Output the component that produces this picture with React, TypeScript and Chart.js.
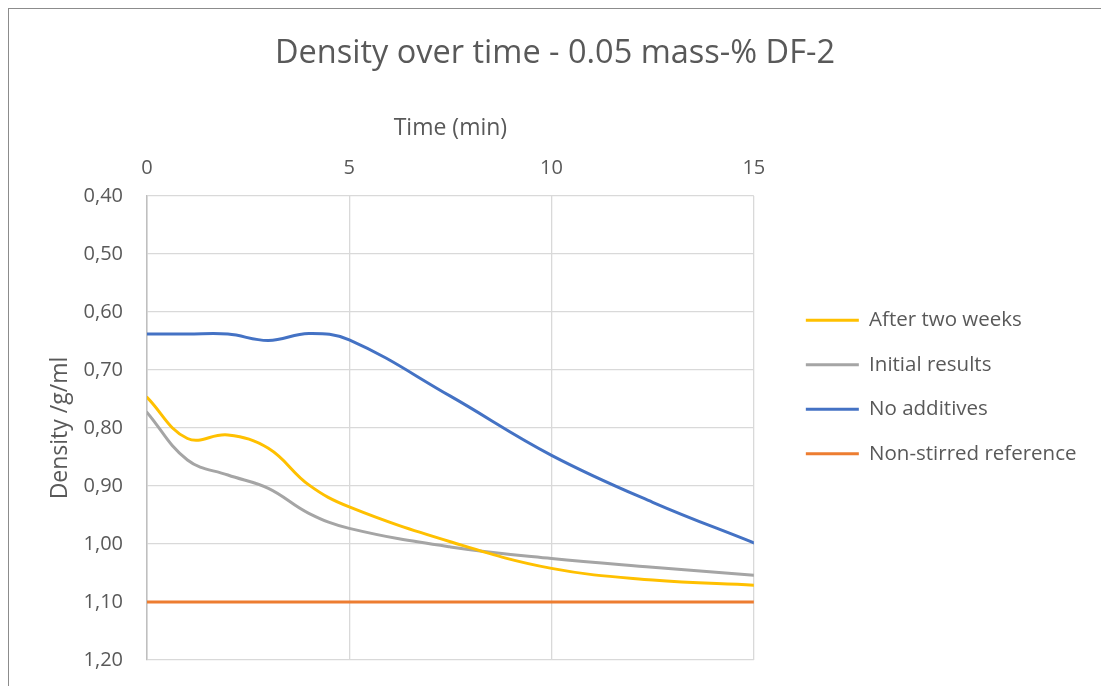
import { useEffect, useRef } from "react";
import { Chart, registerables } from "chart.js";

Chart.register(...registerables);

// ---- Data ----
const chartTitle = "Density over time - 0.05 mass-% DF-2";
const xAxisTitle = "Time (min)";
const yAxisTitle = "Density /g/ml";
const seriesNames = ["After two weeks", "Initial results", "No additives", "Non-stirred reference"];
const seriesColors = ["#FFC000", "#A5A5A5", "#4472C4", "#ED7D31"];

const times = [0, 1, 2, 3, 4, 5, 7.5, 10, 12.5, 15];
const afterTwoWeeks = [0.747, 0.818, 0.812, 0.835, 0.898, 0.936, 0.996, 1.042, 1.062, 1.071];
const initialResults = [0.773, 0.855, 0.881, 0.904, 0.947, 0.973, 1.005, 1.025, 1.04, 1.054];
const noAdditives = [0.638, 0.638, 0.638, 0.649, 0.637, 0.648, 0.745, 0.847, 0.928, 0.998];
const refTimes = [0, 15];
const nonStirred = [1.1, 1.1];

const xTickValues = [0, 5, 10, 15];
const yTickValues = [0.4, 0.5, 0.6, 0.7, 0.8, 0.9, 1.0, 1.1, 1.2];

const FONT = "'Open Sans', sans-serif";
const TEXT = "#595959";
const GRID = "#D9D9D9";

function pts(xs: number[], ys: number[]) {
  return xs.map((x, i) => ({ x, y: ys[i] }));
}

export default function App() {
  const ref = useRef<HTMLCanvasElement | null>(null);

  useEffect(() => {
    if (!ref.current) return;
    const seriesData = [
      pts(times, afterTwoWeeks),
      pts(times, initialResults),
      pts(times, noAdditives),
      pts(refTimes, nonStirred),
    ];
    const chart = new Chart(ref.current, {
      type: "line",
      data: {
        datasets: seriesNames.map((name, i) => ({
          label: name,
          data: seriesData[i],
          borderColor: seriesColors[i],
          backgroundColor: seriesColors[i],
          borderWidth: 3,
          pointRadius: 0,
          pointHoverRadius: 0,
          tension: 0.4,
          fill: false,
          borderCapStyle: "round" as const,
          xAxisID: "x",
          yAxisID: "y",
        })),
      },
      options: {
        animation: false,
        responsive: true,
        maintainAspectRatio: false,
        events: [],
        layout: { padding: { left: 0, right: 0, top: 0, bottom: 26 } },
        plugins: {
          title: {
            display: true,
            text: chartTitle,
            color: TEXT,
            font: { family: FONT, size: 32.5, weight: "normal" },
            padding: { top: 25, bottom: 37.3 },
          },
          legend: {
            position: "right",
            align: "start",
            maxWidth: 400,
            title: {
              display: true,
              text: " ",
              font: { size: 10 },
              padding: { top: 265, bottom: 0 },
            },
            labels: {
              usePointStyle: true,
              pointStyle: "line",
              pointStyleWidth: 53,
              padding: 24,
              color: TEXT,
              font: { family: FONT, size: 20.5 },
            },
          },
          tooltip: { enabled: false },
        },
        scales: {
          x: {
            type: "linear",
            position: "top",
            min: 0,
            max: 15,
            afterBuildTicks: (s: any) => {
              s.ticks = xTickValues.map((v) => ({ value: v }));
            },
            afterFit: (s: any) => {
              s.height = 85.8;
            },
            ticks: { color: TEXT, font: { family: FONT, size: 20 }, padding: 15.5, maxRotation: 0 },
            grid: { color: GRID, drawTicks: false, lineWidth: 1.3 },
            border: { display: false },
            title: {
              display: true,
              text: xAxisTitle,
              color: TEXT,
              font: { family: FONT, size: 23 },
              padding: { top: 4, bottom: 14.7 },
            },
          },
          y: {
            type: "linear",
            position: "left",
            reverse: true,
            min: 0.4,
            max: 1.2,
            afterBuildTicks: (s: any) => {
              s.ticks = yTickValues.map((v) => ({ value: v }));
            },
            afterFit: (s: any) => {
              s.width = 138;
              s.paddingTop = 0;
              s.paddingBottom = 0;
            },
            ticks: {
              color: TEXT,
              font: { family: FONT, size: 20 },
              padding: 24,
              callback: (v: any) => Number(v).toFixed(2).replace(".", ","),
            },
            grid: { color: GRID, drawTicks: false, lineWidth: 1.3 },
            border: { color: "#BFBFBF", width: 1.5 },
            title: {
              display: true,
              text: yAxisTitle,
              color: TEXT,
              font: { family: FONT, size: 23 },
              padding: { top: 37.2, bottom: 0 },
            },
          },
          gap: {
            type: "linear",
            position: "right",
            weight: 0,
            display: true,
            grid: { display: false },
            ticks: { display: false },
            border: { display: false },
            afterFit: (s: any) => {
              s.width = 28;
            },
          },
          outer: {
            type: "linear",
            position: "right",
            weight: 2000,
            display: true,
            grid: { display: false },
            ticks: { display: false },
            border: { display: false },
            afterFit: (s: any) => {
              s.width = 14.5;
            },
          },
        },
      } as any,
    });
    return () => chart.destroy();
  }, []);

  return (
    <div
      style={{
        position: "fixed",
        left: 8,
        top: 8,
        width: 1092,
        height: 677,
        borderLeft: "1px solid #8C8C8C",
        borderTop: "1px solid #8C8C8C",
        background: "#fff",
      }}
    >
      <div style={{ position: "relative", width: 1092, height: 677 }}>
        <canvas ref={ref} />
      </div>
    </div>
  );
}
